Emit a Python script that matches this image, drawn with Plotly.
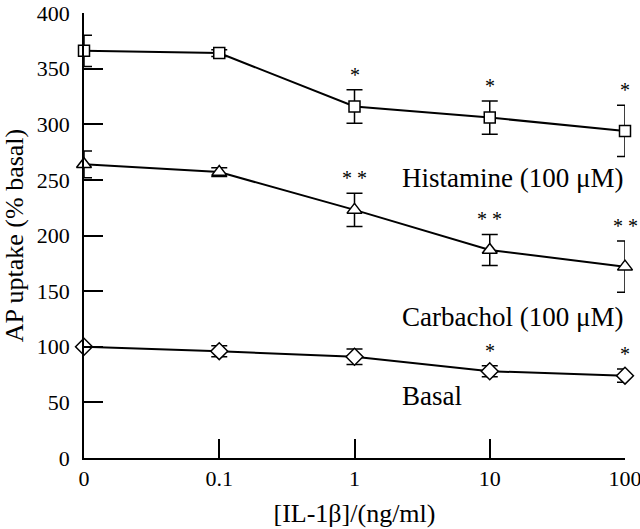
import plotly.graph_objects as go

# ---- data ----
conc_labels = ["0", "0.1", "1", "10", "100"]
conc_pos = [0, 1, 2, 3, 4]

histamine = [366, 364, 316, 306, 294]
histamine_err = [14, 3, 15, 15, 23]
histamine_sig = ["", "", "*", "*", "*"]

carbachol = [264, 257, 223, 187, 172]
carbachol_err = [12, 4, 15, 14, 23]
carbachol_sig = ["", "", "**", "**", "**"]

basal = [100, 96, 91, 78, 74]
basal_err = [0, 5, 7, 5, 6]
basal_sig = ["", "", "", "*", "*"]

series = [
    ("Histamine (100 \u03bcM)", histamine, histamine_err, histamine_sig, "square", 11, 252),
    ("Carbachol (100 \u03bcM)", carbachol, carbachol_err, carbachol_sig, "triangle-up", 13, 127),
    ("Basal", basal, basal_err, basal_sig, "diamond", 13, 56),
]

FONT = "Liberation Serif"
fig = go.Figure()
annotations = []
for name, vals, errs, sigs, sym, msize, label_y in series:
    fig.add_trace(go.Scatter(
        x=conc_pos, y=vals, mode="lines+markers", name=name,
        line=dict(color="black", width=2),
        marker=dict(symbol=sym, size=msize, color="white",
                    line=dict(color="black", width=1.5)),
        error_y=dict(type="data", array=errs, visible=True,
                     color="black", thickness=1.5, width=8),
        cliponaxis=False, showlegend=False,
    ))
    for xp, v, e, s in zip(conc_pos, vals, errs, sigs):
        if s:
            annotations.append(dict(
                x=xp, y=v + e, xref="x", yref="y", text=" ".join(s),
                showarrow=False, yanchor="middle", yshift=15,
                font=dict(family=FONT, size=20, color="black")))
    annotations.append(dict(
        x=2.34, y=label_y, xref="x", yref="y", text=name, showarrow=False,
        xanchor="left", yanchor="middle",
        font=dict(family=FONT, size=27, color="black")))

fig.update_layout(
    width=640, height=529,
    margin=dict(l=84, r=15, t=13, b=71),
    plot_bgcolor="white", paper_bgcolor="white",
    font=dict(family=FONT, size=22, color="black"),
    annotations=annotations,
)
fig.update_xaxes(
    range=[0, 4], tickvals=conc_pos, ticktext=conc_labels,
    showline=True, linecolor="black", linewidth=1.5,
    ticks="inside", ticklen=19, tickwidth=1.5, tickcolor="black",
    showgrid=False, zeroline=False, automargin=False,
    ticklabeloverflow="allow",
    tickfont=dict(family=FONT, size=22),
    title=dict(text="[IL-1\u03b2]/(ng/ml)", font=dict(family=FONT, size=26), standoff=14),
)
fig.update_yaxes(
    range=[0, 400], tickvals=[0, 50, 100, 150, 200, 250, 300, 350, 400],
    showline=True, linecolor="black", linewidth=1.5,
    ticks="inside", ticklen=19, tickwidth=1.5, tickcolor="black",
    showgrid=False, zeroline=False, ticklabelstandoff=8, automargin=False,
    ticklabeloverflow="allow",
    tickfont=dict(family=FONT, size=22),
    title=dict(text="AP uptake (% basal)", font=dict(family=FONT, size=26), standoff=6),
)
fig.write_html("out.html", config={"displayModeBar": False},
               post_script="document.body.style.margin='0';")
